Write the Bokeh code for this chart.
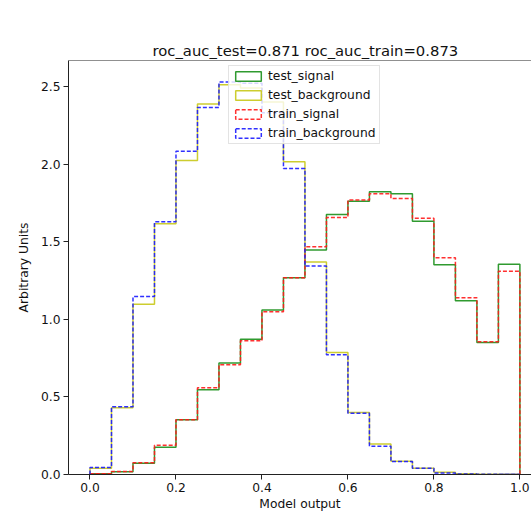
import numpy as np
from bokeh.plotting import figure
from bokeh.models import (Legend, LegendItem, ColumnDataSource, Span, FixedTicker,
                          PrintfTickFormatter, CDSView, IndexFilter)
from bokeh.embed import file_html
from bokeh.resources import INLINE

# ---- data ----
bin_edges = [0.0, 0.05, 0.1, 0.15, 0.2, 0.25, 0.3, 0.35, 0.4, 0.45, 0.5,
             0.55, 0.6, 0.65, 0.7, 0.75, 0.8, 0.85, 0.9, 0.95, 1.0]
test_signal = [0.004, 0.017, 0.073, 0.176, 0.353, 0.546, 0.718, 0.872, 1.060, 1.268,
               1.446, 1.675, 1.761, 1.821, 1.808, 1.632, 1.352, 1.120, 0.850, 1.354]
train_signal = [0.003, 0.020, 0.075, 0.189, 0.353, 0.559, 0.707, 0.861, 1.048, 1.268,
                1.467, 1.656, 1.769, 1.808, 1.778, 1.650, 1.397, 1.139, 0.855, 1.309]
test_background = [0.040, 0.430, 1.097, 1.615, 2.022, 2.386, 2.511, 2.490, 2.400, 2.014,
                   1.369, 0.786, 0.400, 0.197, 0.085, 0.041, 0.015, 0.005, 0.001, 0.0]
train_background = [0.045, 0.437, 1.146, 1.628, 2.082, 2.365, 2.528, 2.520, 2.330, 1.971,
                    1.343, 0.771, 0.395, 0.182, 0.083, 0.041, 0.009, 0.003, 0.001, 0.0]
x_ticks = [0.0, 0.2, 0.4, 0.6, 0.8, 1.0]
y_ticks = [0.0, 0.5, 1.0, 1.5, 2.0, 2.5]
title_text = "roc_auc_test=0.871 roc_auc_train=0.873"
x_label = "Model output"
y_label = "Arbitrary Units"

FONT = "DejaVu Sans"
Y_END = 2.667

p = figure(width=531, height=514, output_backend="svg", toolbar_location=None,
           x_range=(-0.05, 1.027), y_range=(0, Y_END),
           min_border_left=68, min_border_right=0, min_border_top=60, min_border_bottom=40)
p.outline_line_color = None
p.xgrid.visible = False
p.ygrid.visible = False
p.background_fill_color = "white"
p.border_fill_color = "white"

p.title.text = title_text
p.title.text_font = FONT
p.title.text_font_size = "14.8px"
p.title.text_font_style = "normal"
p.title.text_color = "#111111"
p.title.align = "left"
p.title.offset = 84
p.title.standoff = 4

for ax, ticks, lab in ((p.xaxis[0], x_ticks, x_label), (p.yaxis[0], y_ticks, y_label)):
    ax.ticker = FixedTicker(ticks=ticks)
    ax.formatter = PrintfTickFormatter(format="%.1f")
    ax.axis_label = lab
    ax.axis_label_text_font = FONT
    ax.axis_label_text_font_size = "12.3px"
    ax.axis_label_text_font_style = "normal"
    ax.axis_label_text_color = "#111111"
    ax.major_label_text_font = FONT
    ax.major_label_text_font_size = "12.3px"
    ax.major_label_text_color = "#111111"
    ax.axis_line_color = "#222222"
    ax.axis_line_width = 1
    ax.major_tick_line_color = "#222222"
    ax.major_tick_out = 5
    ax.major_tick_in = 0
    ax.minor_tick_line_color = None
    ax.major_label_standoff = 3
p.xaxis.axis_label_standoff = 2
p.yaxis.axis_label_standoff = 7

p.add_layout(Span(location=Y_END, dimension="width", line_color="#222222", line_width=1))

series = [
    ("test_signal", test_signal, "#1a8f1a", None),
    ("test_background", test_background, "#c8c818", None),
    ("train_signal", train_signal, "#ff1a1a", "4 2"),
    ("train_background", train_background, "#1a1aff", "4 2"),
]

edges = np.array(bin_edges)
items = []
for name, vals, color, dash in series:
    v = np.array(vals)
    xs = np.repeat(edges, 2)
    ys = np.concatenate([[0.0], np.repeat(v, 2), [0.0]])
    kw = dict(line_color=color, line_width=1.5, line_alpha=0.9)
    if dash:
        kw["line_dash"] = dash
    p.line(xs, ys, **kw)
    # rectangle legend icon: bar of the lowest bin (coincides with the outline)
    k = int(np.argmin(v))
    src = ColumnDataSource(dict(left=edges[:-1], right=edges[1:], top=v, bottom=np.zeros_like(v)))
    qkw = dict(line_color=color, line_width=1.5, line_alpha=0.9, fill_alpha=0)
    if dash:
        qkw["line_dash"] = dash
    r = p.quad(left="left", right="right", top="top", bottom="bottom", source=src,
               view=CDSView(filter=IndexFilter(indices=[k])), **qkw)
    items.append(LegendItem(label=name, renderers=[r]))

legend = Legend(items=items, location=(160, 330), margin=0, padding=3, spacing=5,
                label_height=14, glyph_height=12, glyph_width=32, label_standoff=4,
                label_text_font=FONT, label_text_font_size="12.3px", label_text_color="#111111",
                border_line_color="#c8c8c8", border_line_width=1,
                background_fill_color="white", background_fill_alpha=0.8)
p.add_layout(legend, "center")

open("out.html", "w").write(file_html(p, INLINE))
